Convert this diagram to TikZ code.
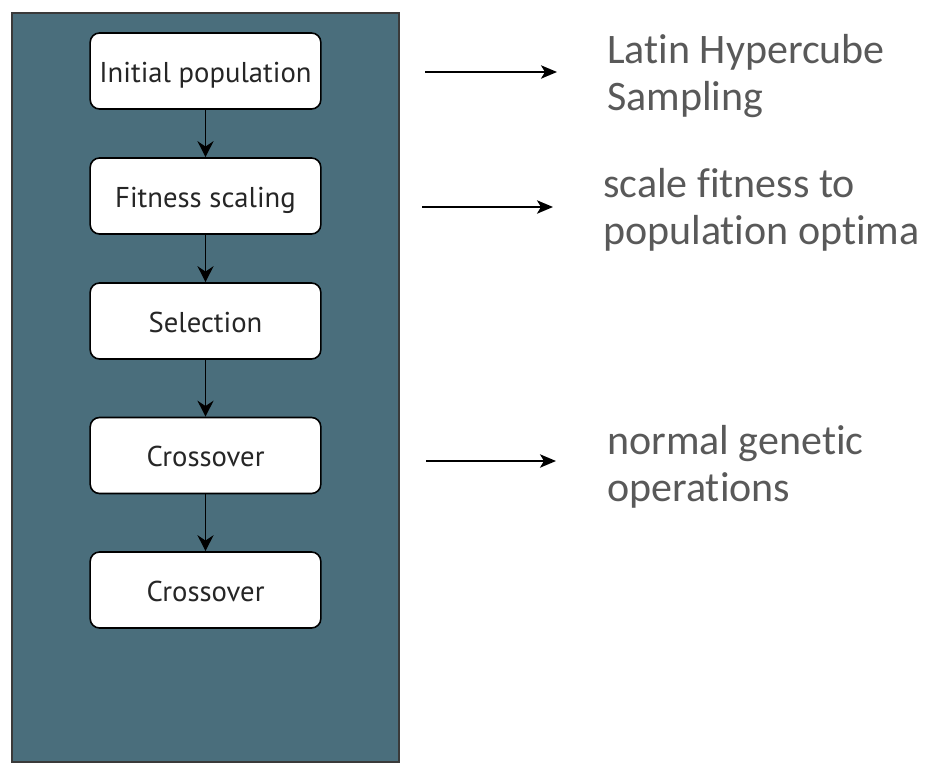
\documentclass[tikz,border=0pt]{standalone}
\usepackage{fontspec}
\setmainfont[Ligatures=NoCommon]{Carlito}
\newfontfamily\stepfont{PT Sans}
\usetikzlibrary{arrows.meta}
\definecolor{panelfill}{HTML}{4A6E7C}
\definecolor{panelline}{HTML}{3A3A3A}
\definecolor{notegray}{HTML}{595959}
\begin{document}
\begin{tikzpicture}[x=0.75pt,y=-0.75pt,
  stepbox/.style={draw=black, fill=white, line width=1.2pt, rounded corners=7pt,
    minimum width=173pt, minimum height=57pt, inner sep=0pt,
    text height=17pt, text depth=0pt,
    font=\stepfont\fontsize{21.5}{24}\selectfont, text=black!85},
  flow/.style={-{Stealth[length=12pt,width=12pt,inset=4pt]}, line width=1.2pt},
  side/.style={-{Stealth[length=12pt,width=10pt,inset=3pt]}, line width=1.5pt},
  note/.style={anchor=west, align=left, inner sep=0pt, text=notegray,
    font=\fontsize{31.5}{35.5}\selectfont}]
\useasboundingbox (0,0) rectangle (935,764);
% background panel
\draw[fill=panelfill, draw=panelline, line width=1.6pt] (12,13) rectangle (399,762);
% process steps
\node[stepbox] (init) at (205.5,71) {Initial population};
\node[stepbox] (fit) at (205.5,196) {Fitness scaling};
\node[stepbox] (sel) at (205.5,321) {Selection};
\node[stepbox] (cx1) at (205.5,455.5) {Crossover};
\node[stepbox] (cx2) at (205.5,590) {Crossover};
\draw[flow] (init) -- (fit);
\draw[flow] (fit) -- (sel);
\draw[flow] (sel) -- (cx1);
\draw[flow] (cx1) -- (cx2);
% side annotations
\node[note] (lhs) at (607,76) {Latin Hypercube\\Sampling};
\node[note] (scl) at (603,210) {scale fitness to\\population optima};
\node[note] (gen) at (607,467) {normal genetic\\operations};
\coordinate (a1) at (425,72);
\coordinate (a2) at (422,207);
\coordinate (a3) at (426,461);
\draw[side] (a1) -- (557,72);
\draw[side] (a2) -- (553,207);
\draw[side] (a3) -- (556,461);
\end{tikzpicture}
\end{document}
